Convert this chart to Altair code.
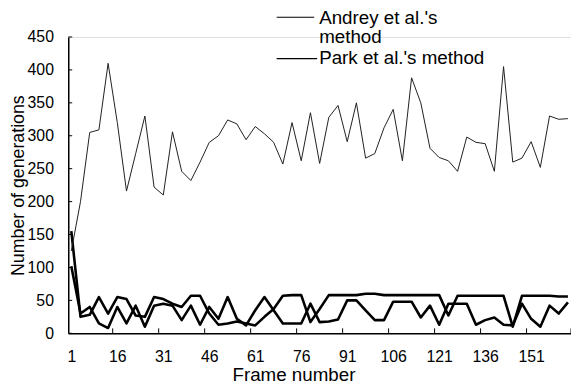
import altair as alt
import pandas as pd

# ---- data ----
frames = [1, 4, 7, 10, 13, 16, 19, 22, 25, 28, 31, 34, 37, 40, 43, 46, 49, 52, 55,
          58, 61, 64, 67, 70, 73, 76, 79, 82, 85, 88, 91, 94, 97, 100, 103, 106, 109,
          112, 115, 118, 121, 124, 127, 130, 133, 136, 139, 142, 145, 148, 151, 154,
          157, 160, 163]
andrey = [125, 200, 305, 309, 410, 320, 216, 273, 330, 222, 210, 306, 246, 232, 260,
          290, 300, 324, 318, 294, 314, 303, 290, 257, 320, 262, 335, 258, 328, 346,
          291, 350, 266, 273, 312, 340, 262, 388, 350, 281, 267, 262, 246, 298, 290,
          288, 246, 405, 260, 266, 291, 252, 330, 325, 326]
park = [155, 25, 28, 55, 30, 55, 52, 27, 25, 55, 52, 45, 40, 57, 57, 30, 13, 15, 18,
        15, 12, 25, 37, 57, 58, 58, 17, 37, 58, 58, 58, 58, 60, 60, 58, 58, 58, 58,
        58, 58, 58, 27, 57, 57, 57, 57, 57, 57, 10, 57, 57, 57, 57, 56, 56]
third = [102, 30, 40, 15, 8, 40, 15, 42, 10, 42, 45, 42, 20, 42, 13, 40, 22, 55, 22,
         12, 35, 55, 35, 15, 15, 15, 45, 17, 18, 21, 50, 50, 35, 20, 20, 48, 48, 48,
         24, 42, 13, 45, 45, 45, 13, 20, 24, 13, 12, 45, 22, 10, 42, 30, 47]
x_labels = [1, 16, 31, 46, 61, 76, 91, 106, 121, 136, 151]
x_tick_marks = [14.5, 29.5, 44.5, 59.5, 74.5, 89.5, 104.5, 119.5, 134.5, 149.5, 164]
y_labels = [0, 50, 100, 150, 200, 250, 300, 350, 400, 450]
legend_text = ["Andrey et al.'s", "method", "Park et al.'s method"]
x_title = "Frame number"
y_title = "Number of generations"

FONT = "Liberation Sans"

df_a = pd.DataFrame({"frame": frames, "value": andrey})
df_thick = pd.DataFrame({
    "frame": frames + frames,
    "value": park + third,
    "series": ["Park"] * len(frames) + ["Other"] * len(frames),
})
df_xt = pd.DataFrame({"frame": x_tick_marks})
df_yt = pd.DataFrame({"value": y_labels})

xs = alt.Scale(domain=[0, 164], nice=False, zero=False)
ys = alt.Scale(domain=[0, 450], nice=False, zero=False)

xaxis = alt.Axis(values=x_labels, title=x_title, ticks=False, grid=False,
                 domainColor="black", domainWidth=1.5, labelFont=FONT,
                 labelFontSize=16, labelColor="black", labelPadding=16,
                 labelFlush=False, labelOverlap=False, titleFont=FONT,
                 titleFontSize=19, titleFontWeight="normal", titleColor="black",
                 titleX=228, titleY=48, titleBaseline="alphabetic",
                 titleAlign="center")
yaxis = alt.Axis(values=y_labels, title=y_title, ticks=False, grid=False,
                 domainColor="black", domainWidth=1.5, labelFont=FONT,
                 labelFontSize=16, labelColor="black", labelPadding=15,
                 labelFlush=False, labelOverlap=False, labelBound=False,
                 titleFont=FONT, titleFontSize=18, titleFontWeight="normal",
                 titleColor="black", titleX=-45, titleY=150, titleAngle=270,
                 titleBaseline="alphabetic", titleAlign="center")

thick = alt.Chart(df_thick).mark_line(color="black", strokeWidth=2.6,
                                       strokeJoin="round").encode(
    x=alt.X("frame:Q", scale=xs, axis=xaxis),
    y=alt.Y("value:Q", scale=ys, axis=yaxis),
    detail="series:N",
)
thin = alt.Chart(df_a).mark_line(color="#1e1e1e", strokeWidth=1).encode(
    x=alt.X("frame:Q", scale=xs, axis=xaxis),
    y=alt.Y("value:Q", scale=ys, axis=yaxis),
)
xticks = alt.Chart(df_xt).mark_rule(color="black", strokeWidth=1).encode(
    x=alt.X("frame:Q", scale=xs, axis=xaxis),
    y=alt.value(300), y2=alt.value(295),
)
yticks = alt.Chart(df_yt).mark_rule(color="black", strokeWidth=1).encode(
    y=alt.Y("value:Q", scale=ys, axis=yaxis),
    x=alt.value(0), x2=alt.value(4),
)

def leg_text(label, yv):
    return alt.Chart(pd.DataFrame({"label": [label]})).mark_text(
        font=FONT, fontSize=19, align="left", baseline="alphabetic", color="black"
    ).encode(x=alt.value(254), y=alt.value(yv), text="label:N")

def leg_line(name, yv, x2v):
    return alt.Chart(pd.DataFrame({"s": [name]})).mark_rule(
        color="black", strokeWidth=1.2
    ).encode(x=alt.value(211), x2=alt.value(x2v), y=alt.value(yv))

chart = alt.layer(
    thick, thin, xticks, yticks,
    leg_line("Andrey", -20, 249), leg_line("Park", 22, 252),
    leg_text(legend_text[0], -13), leg_text(legend_text[1], 6),
    leg_text(legend_text[2], 27),
).properties(
    width=509, height=300,
    padding={"left": 61, "top": 27, "right": 0, "bottom": 50},
    autosize=alt.AutoSizeParams(type="none"),
).configure_view(stroke=None).configure_axis(
    labelOverlap=False
).configure(background="white")

chart.save("out.html", embed_options={"renderer": "svg", "actions": False})
